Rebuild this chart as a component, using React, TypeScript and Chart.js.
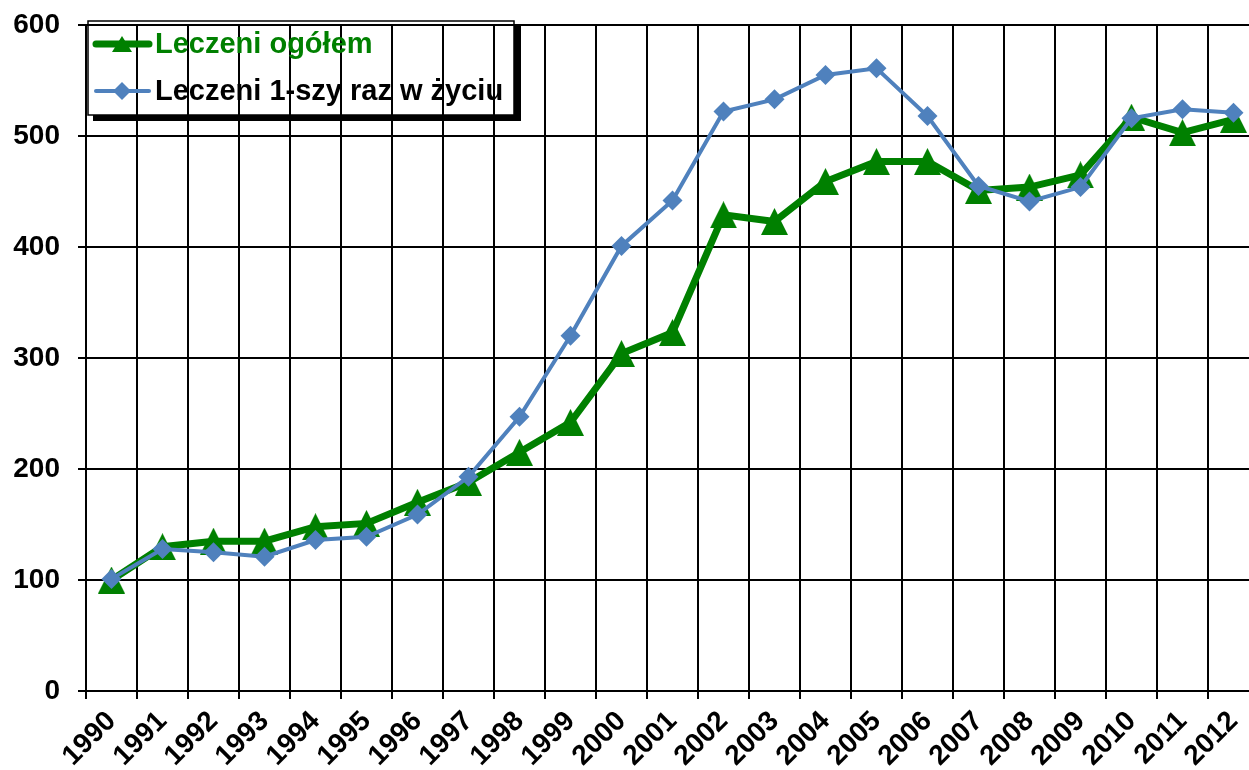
import React, { useEffect, useRef } from "react";
import { Chart, registerables } from "chart.js";

Chart.register(...registerables);

const years = [
  "1990", "1991", "1992", "1993", "1994", "1995", "1996", "1997", "1998", "1999", "2000",
  "2001", "2002", "2003", "2004", "2005", "2006", "2007", "2008", "2009", "2010", "2011", "2012",
];
const totalTreated = [100, 130, 135, 135, 148, 151, 170, 188, 215, 242, 304, 323, 429, 423, 459, 477, 477, 451, 454, 465, 517, 503, 515];
const firstTimeTreated = [101, 128, 125, 121, 136, 139, 159, 193, 247, 320, 401, 442, 522, 533, 555, 561, 518, 455, 441, 454, 516, 524, 521];
const seriesNames = ["Leczeni ogółem", "Leczeni 1-szy raz w życiu"];
const yMin = 0;
const yMax = 600;
const yStep = 100;

const GREEN = "#008000";
const BLUE = "#4F81BD";
const FONT = "'Liberation Sans', Arial, sans-serif";

function makeTriangle(w: number, h: number, color: string) {
  const c = document.createElement("canvas");
  c.width = w;
  c.height = h;
  const ctx = c.getContext("2d")!;
  ctx.fillStyle = color;
  ctx.beginPath();
  ctx.moveTo(w / 2, 0);
  ctx.lineTo(w, h);
  ctx.lineTo(0, h);
  ctx.closePath();
  ctx.fill();
  return c;
}

const legendPlugin = {
  id: "boxLegend",
  afterDraw(chart: any) {
    const ctx = chart.ctx as CanvasRenderingContext2D;
    const x0 = 88, y0 = 21, x1 = 514, y1 = 115;
    ctx.save();
    // shadow
    ctx.fillStyle = "#000";
    ctx.fillRect(x1, y0 + 4, 7, y1 - y0 + 2);
    ctx.fillRect(x0 + 5, y1, x1 - x0 + 2, 6);
    // border
    ctx.strokeStyle = "#000";
    ctx.lineWidth = 1.5;
    ctx.strokeRect(x0, y0, x1 - x0, y1 - y0);

    // green entry
    ctx.lineCap = "round";
    ctx.strokeStyle = GREEN;
    ctx.lineWidth = 7;
    ctx.beginPath();
    ctx.moveTo(96, 44);
    ctx.lineTo(149, 44);
    ctx.stroke();
    ctx.fillStyle = GREEN;
    ctx.beginPath();
    ctx.moveTo(122, 36);
    ctx.lineTo(132, 52);
    ctx.lineTo(112, 52);
    ctx.closePath();
    ctx.fill();

    // blue entry
    ctx.strokeStyle = BLUE;
    ctx.lineWidth = 4;
    ctx.beginPath();
    ctx.moveTo(96, 91);
    ctx.lineTo(149, 91);
    ctx.stroke();
    ctx.fillStyle = BLUE;
    ctx.beginPath();
    ctx.moveTo(122, 82);
    ctx.lineTo(131, 91);
    ctx.lineTo(122, 100);
    ctx.lineTo(113, 91);
    ctx.closePath();
    ctx.fill();

    ctx.font = `bold 29px ${FONT}`;
    ctx.textBaseline = "alphabetic";
    ctx.textAlign = "left";
    ctx.fillStyle = GREEN;
    ctx.fillText(seriesNames[0], 155, 53);
    ctx.fillStyle = "#000";
    ctx.fillText(seriesNames[1], 155, 100);
    ctx.restore();
  },
};

export default function App() {
  const canvasRef = useRef<HTMLCanvasElement | null>(null);

  useEffect(() => {
    if (!canvasRef.current) return;
    const tri = makeTriangle(27, 27, GREEN);
    const chart = new Chart(canvasRef.current, {
      type: "line",
      data: {
        labels: years,
        datasets: [
          {
            label: seriesNames[0],
            data: totalTreated,
            borderColor: GREEN,
            backgroundColor: GREEN,
            borderWidth: 7,
            pointStyle: tri as any,
            pointRadius: 14,
            pointBorderWidth: 0,
            tension: 0,
            order: 2,
          },
          {
            label: seriesNames[1],
            data: firstTimeTreated,
            borderColor: BLUE,
            backgroundColor: BLUE,
            borderWidth: 4,
            pointStyle: "rectRot",
            pointRadius: 10,
            pointBorderWidth: 0,
            pointBackgroundColor: BLUE,
            tension: 0,
            order: 1,
          },
        ],
      },
      options: {
        animation: false,
        responsive: true,
        maintainAspectRatio: false,
        layout: { padding: { left: 0, right: 1, top: 25, bottom: 0 } },
        plugins: {
          legend: { display: false },
          tooltip: { enabled: false },
        },
        scales: {
          x: {
            type: "category",
            offset: true,
            afterFit: (s: any) => {
              s.height = 79;
            },
            grid: {
              offset: true,
              color: "#000",
              lineWidth: 2,
              tickLength: 8,
              drawTicks: true,
            },
            border: { display: true, color: "#000", width: 2 },
            ticks: {
              autoSkip: false,
              maxRotation: 45,
              minRotation: 45,
              color: "#000",
              padding: 6,
              font: { family: FONT, size: 28, weight: "bold" },
            },
          },
          y: {
            min: yMin,
            max: yMax,
            afterFit: (s: any) => {
              s.width = 86;
              s.paddingTop = 0;
              s.paddingBottom = 0;
            },
            grid: {
              color: "#000",
              lineWidth: 2,
              tickLength: 8,
              drawTicks: true,
            },
            border: { display: true, color: "#000", width: 2 },
            ticks: {
              stepSize: yStep,
              color: "#000",
              padding: 18,
              font: { family: FONT, size: 28, weight: "bold" },
            },
          },
        },
      },
      plugins: [legendPlugin],
    });
    return () => chart.destroy();
  }, []);

  return (
    <div
      style={{
        position: "fixed",
        left: 0,
        top: 0,
        width: 1249,
        height: 770,
        overflow: "hidden",
        background: "#fff",
      }}
    >
      <div style={{ position: "relative", width: 1273, height: 770 }}>
        <canvas ref={canvasRef} />
      </div>
    </div>
  );
}
